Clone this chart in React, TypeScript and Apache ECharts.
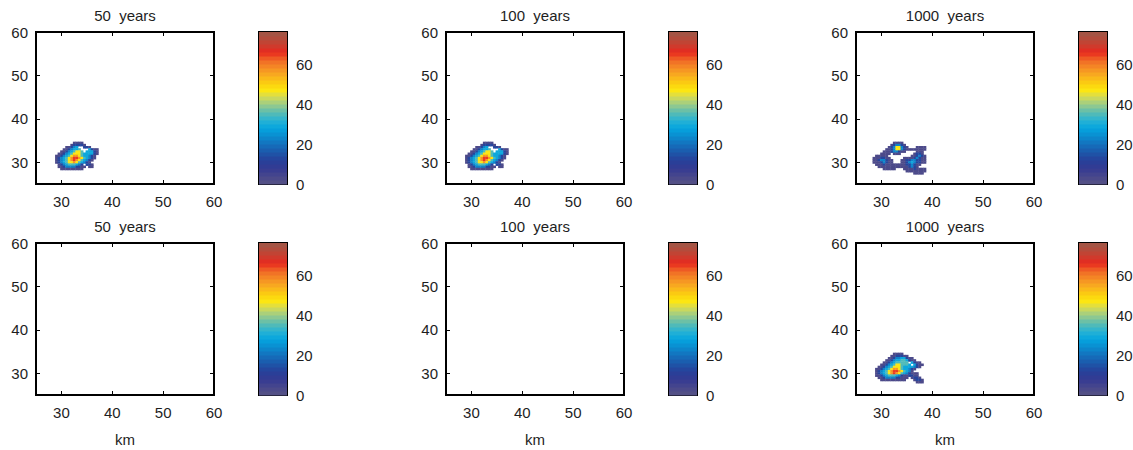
import React, { useEffect, useRef } from "react";
import * as echarts from "echarts";

// ---------- data ----------
const panelTitles = ["50  years", "100  years", "1000  years", "50  years", "100  years", "1000  years"];
const axisTickValues = [30, 40, 50, 60];
const colorbarTickValues = [0, 20, 40, 60];
const colorbarLevels = [0, 2, 4, 6, 8, 10, 12, 14, 16, 18, 20, 22, 24, 26, 28, 30, 32, 34, 36, 38, 40, 42, 44, 46, 48, 50, 52, 54, 56, 58, 60, 62, 64, 66, 68, 70, 72, 74];
const colorbarMax = 76;
// contour level code -> value
const levelValues: Record<string, number> = { "1": 3, "2": 13, "3": 23, "4": 29, "5": 34, "6": 47, "7": 57, "8": 65, "9": 72 };

// 0.5 km cells, rows from top (y0) downward, columns from x0 rightward
const top50Origin = [28.5, 34.5];
const top50Rows = [
  "........1111.......",
  ".......122221......",
  ".....11234..221....",
  "....1123445...4211.",
  "...112345665.44421.",
  "..1123456665444421.",
  ".1123456776544321..",
  ".1234567887654321..",
  ".123456787654321...",
  ".12345667654321....",
  "..1234555432.221...",
  "..11233332211.11...",
  "...111111111.......",
];
const top100Origin = [28.5, 34.5];
const top100Rows = [
  "........1111.......",
  ".......122221......",
  ".....11234..221....",
  "....1123445...4211.",
  "...112345665.44421.",
  "..1123456665444421.",
  ".1123456776544321..",
  ".1234567887654321..",
  ".123456787654321...",
  ".12345667654321....",
  "..1234555432.221...",
  "..11233332211.11...",
  "...111111111.......",
];
const top1000Origin = [28, 34.5];
const top1000Rows = [
  ".........1111..........",
  "........123321.........",
  ".......12366321...1111.",
  "......1123663211111111.",
  ".....111233211....111..",
  "....1111.111.....1221..",
  "..11111.........112321.",
  ".1112211.....111123211.",
  ".11233211...1122332211.",
  ".11123211...1123432211.",
  "..111211111111223211...",
  "...1111111111112321....",
  ".....11111...111121111.",
  "..............11111111.",
  ".................1111..",
];
const bottom50Rows: string[] = [];
const bottom100Rows: string[] = [];
const bottom1000Origin = [28.5, 34.5];
const bottom1000Rows = [
  "........1111.........",
  ".......1122211.......",
  "......1123344211.....",
  ".....112344554211....",
  "....1123455555.4211..",
  "...112345665554.4211.",
  "..11234566654444321..",
  ".1123456776544321....",
  ".123456788765431.....",
  ".12345678765432111...",
  ".11234555432112211...",
  "..112333322111.1221..",
  "...1111111111...1221.",
  ".................111.",
];

const panels = [
  { rows: top50Rows, origin: top50Origin },
  { rows: top100Rows, origin: top100Origin },
  { rows: top1000Rows, origin: top1000Origin },
  { rows: bottom50Rows, origin: [28.5, 34.5] },
  { rows: bottom100Rows, origin: [28.5, 34.5] },
  { rows: bottom1000Rows, origin: bottom1000Origin },
];

// ---------- styling ----------
const FONT = '"Liberation Sans", Arial, Helvetica, sans-serif';
const TEXT = "#1e1e1e";
const colorStops: [number, string][] = [
  [0, "#575384"],
  [4, "#48478c"],
  [8, "#343a92"],
  [12, "#27409a"],
  [16, "#1c58aa"],
  [20, "#1470bc"],
  [24, "#0a8ccf"],
  [28, "#04a4df"],
  [32, "#28b2d4"],
  [36, "#5cbcb0"],
  [40, "#9ccc88"],
  [44, "#d8dc50"],
  [47, "#fce612"],
  [50, "#fcd20e"],
  [54, "#f9b01e"],
  [58, "#f58e24"],
  [62, "#f06a26"],
  [66, "#e8281e"],
  [70, "#c84030"],
  [76, "#9e5848"],
];
function hex(c: string) {
  return [parseInt(c.slice(1, 3), 16), parseInt(c.slice(3, 5), 16), parseInt(c.slice(5, 7), 16)];
}
function colorFor(v: number) {
  const q = Math.floor(v / 2) * 2 + 1;
  for (let i = 0; i < colorStops.length - 1; i++) {
    const [a, ca] = colorStops[i];
    const [b, cb] = colorStops[i + 1];
    if (q >= a && q <= b) {
      const t = (q - a) / (b - a);
      const A = hex(ca), B = hex(cb);
      const m = A.map((x, k) => Math.round(x + (B[k] - x) * t));
      return `rgb(${m[0]},${m[1]},${m[2]})`;
    }
  }
  return colorStops[colorStops.length - 1][1];
}

function rowsToCells(rows: string[], origin: number[]) {
  const out: number[][] = [];
  rows.forEach((row, r) => {
    for (let c = 0; c < row.length; c++) {
      const ch = row[c];
      if (ch !== ".") out.push([origin[0] + 0.5 * c, origin[1] - 0.5 * r, levelValues[ch]]);
    }
  });
  return out;
}

const plotLefts = [36, 446, 856];
const cbLefts = [259, 669, 1079];
const rowTops = [32, 243];
const PW = 178;
const PH = 152;
const CBW = 28;

function buildOption() {
  const grid: any[] = [];
  const xAxis: any[] = [];
  const yAxis: any[] = [];
  const series: any[] = [];
  const graphic: any[] = [];
  const tickStyle = { show: true, inside: true, length: 4, lineStyle: { color: "#000", width: 1 } };
  const labelStyle = { color: TEXT, fontSize: 15, fontFamily: FONT };

  for (let i = 0; i < 6; i++) {
    const r = Math.floor(i / 3);
    const k = i % 3;
    const top = rowTops[r];
    // plot grid
    const gi = grid.length;
    grid.push({ left: plotLefts[k], top, width: PW, height: PH, show: true, borderColor: "#000", borderWidth: 2, backgroundColor: "transparent", containLabel: false, outerBoundsMode: "none" });
    const xb = xAxis.length;
    xAxis.push({
      type: "value", gridIndex: gi, position: "bottom", min: 25, max: 60,
      axisLine: { show: false }, splitLine: { show: false },
      axisTick: { ...tickStyle, customValues: [30, 40, 50] },
      axisLabel: { ...labelStyle, margin: 10, customValues: axisTickValues },
      name: r === 1 ? "km" : "", nameLocation: "middle", nameGap: 37,
      nameTextStyle: { ...labelStyle },
    });
    xAxis.push({
      type: "value", gridIndex: gi, position: "top", min: 25, max: 60,
      axisLine: { show: false }, splitLine: { show: false },
      axisTick: { ...tickStyle, customValues: [30, 40, 50] },
      axisLabel: { show: false },
    });
    const yl = yAxis.length;
    yAxis.push({
      type: "value", gridIndex: gi, position: "left", min: 25, max: 60,
      axisLine: { show: false }, splitLine: { show: false },
      axisTick: { ...tickStyle, customValues: [30, 40, 50] },
      axisLabel: { ...labelStyle, margin: 8, customValues: axisTickValues },
    });
    yAxis.push({
      type: "value", gridIndex: gi, position: "right", min: 25, max: 60,
      axisLine: { show: false }, splitLine: { show: false },
      axisTick: { ...tickStyle, customValues: [30, 40, 50] },
      axisLabel: { show: false },
    });
    const cells = rowsToCells(panels[i].rows, panels[i].origin);
    series.push({
      type: "custom", xAxisIndex: xb, yAxisIndex: yl, data: cells, silent: true,
      renderItem: (params: any, api: any) => {
        const x = api.value(0), y = api.value(1), v = api.value(2);
        const p0 = api.coord([x - 0.25, y + 0.25]);
        const p1 = api.coord([x + 0.25, y - 0.25]);
        return {
          type: "rect",
          shape: { x: p0[0], y: p0[1], width: p1[0] - p0[0] + 0.4, height: p1[1] - p0[1] + 0.4 },
          style: { fill: colorFor(v) },
        };
      },
    });
    graphic.push({
      type: "text", x: plotLefts[k] + PW / 2, y: top - 17,
      style: { text: panelTitles[i], fill: TEXT, font: `15px ${FONT}`, textAlign: "center", textVerticalAlign: "middle" },
    });

    // colorbar grid
    const ci = grid.length;
    grid.push({ left: cbLefts[k], top, width: CBW, height: PH, show: true, borderColor: "#000", borderWidth: 2, backgroundColor: "transparent", containLabel: false, outerBoundsMode: "none" });
    const cx = xAxis.length;
    xAxis.push({ type: "value", gridIndex: ci, min: 0, max: 1, show: false });
    const cyl = yAxis.length;
    yAxis.push({
      type: "value", gridIndex: ci, position: "left", min: 0, max: colorbarMax,
      axisLine: { show: false }, splitLine: { show: false },
      axisTick: { ...tickStyle, length: 3, customValues: [20, 40, 60] },
      axisLabel: { show: false },
    });
    yAxis.push({
      type: "value", gridIndex: ci, position: "right", min: 0, max: colorbarMax,
      axisLine: { show: false }, splitLine: { show: false },
      axisTick: { ...tickStyle, length: 3, customValues: [20, 40, 60] },
      axisLabel: { ...labelStyle, margin: 9, customValues: colorbarTickValues },
    });
    series.push({
      type: "custom", xAxisIndex: cx, yAxisIndex: cyl, silent: true,
      data: colorbarLevels.map((v) => [v]),
      renderItem: (params: any, api: any) => {
        const v = api.value(0);
        const p0 = api.coord([0, Math.min(v + 2, colorbarMax)]);
        const p1 = api.coord([1, v]);
        return {
          type: "rect",
          shape: { x: p0[0], y: p0[1], width: p1[0] - p0[0], height: p1[1] - p0[1] + 0.5 },
          style: { fill: colorFor(v) },
        };
      },
    });
  }
  return { animation: false, backgroundColor: "#fff", grid, xAxis, yAxis, series, graphic };
}

export default function App() {
  const ref = useRef<HTMLDivElement>(null);
  useEffect(() => {
    if (!ref.current) return;
    const chart = echarts.init(ref.current, null, { renderer: "svg", width: 1133, height: 450 });
    chart.setOption(buildOption() as any);
    return () => chart.dispose();
  }, []);
  return <div ref={ref} style={{ position: "absolute", left: 0, top: 0, width: 1133, height: 450 }} />;
}
